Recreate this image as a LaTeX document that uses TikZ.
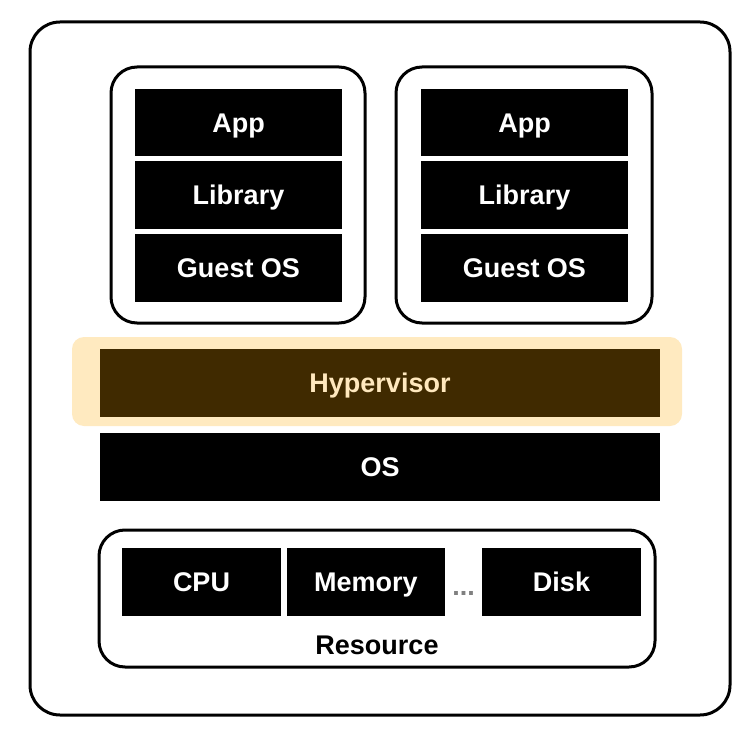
\documentclass[tikz,border=0pt]{standalone}
\usepackage{fontspec}
\setmainfont{Liberation Sans}
\definecolor{glow}{RGB}{255,234,192}
\definecolor{hyper}{RGB}{64,42,0}
\definecolor{hypertext}{RGB}{255,232,190}
\definecolor{dotgray}{RGB}{128,128,128}
\begin{document}
\begin{tikzpicture}[x=1pt,y=-1pt,
  lbl/.style={font=\fontsize{27}{30}\selectfont\bfseries, text height=19.3pt, text depth=0pt},
  blk/.style={lbl, fill=black, text=white, draw=none, inner sep=0pt, minimum height=68pt},
  frame/.style={draw=black, line width=3pt, fill=white, inner sep=0pt},
]
\useasboundingbox (0,0) rectangle (754,735);
% outer
\node[frame, rounded corners=30pt, minimum width=700pt, minimum height=693pt] (outer) at (380,368.5) {};
% VMs
\node[frame, rounded corners=26pt, minimum width=254pt, minimum height=256pt] (vm1) at (238,195) {};
\node[frame, rounded corners=26pt, minimum width=256pt, minimum height=256pt] (vm2) at (524,195) {};
\node[blk, minimum width=207pt, minimum height=67pt] (app1) at (238.5,122.5) {App};
\node[blk, minimum width=207pt] (lib1) at (238.5,195) {Library};
\node[blk, minimum width=207pt] (gos1) at (238.5,268) {Guest OS};
\node[blk, minimum width=207pt, minimum height=67pt] (app2) at (524.5,122.5) {App};
\node[blk, minimum width=207pt] (lib2) at (524.5,195) {Library};
\node[blk, minimum width=207pt] (gos2) at (524.5,268) {Guest OS};
% hypervisor
\node[fill=glow, draw=none, rounded corners=12pt, minimum width=610pt, minimum height=89pt, inner sep=0pt] (glowbox) at (377,381.5) {};
\node[blk, fill=hyper, text=hypertext, minimum width=560pt] (hyp) at (380,383) {Hypervisor};
% OS
\node[blk, minimum width=560pt] (os) at (380,467) {OS};
% resources
\node[frame, rounded corners=26pt, minimum width=556pt, minimum height=137pt] (res) at (377,598.5) {};
\node[blk, minimum width=159pt] (cpu) at (201.5,582) {CPU};
\node[blk, minimum width=158pt] (mem) at (366,582) {Memory};
\node[blk, minimum width=159pt] (disk) at (561.5,582) {Disk};
\node[lbl, text=dotgray, inner sep=0pt, text height=4pt] (dots) at (463.5,593) {...};
\node[lbl, inner sep=0pt] (reslbl) at (377,645) {Resource};
\end{tikzpicture}
\end{document}
